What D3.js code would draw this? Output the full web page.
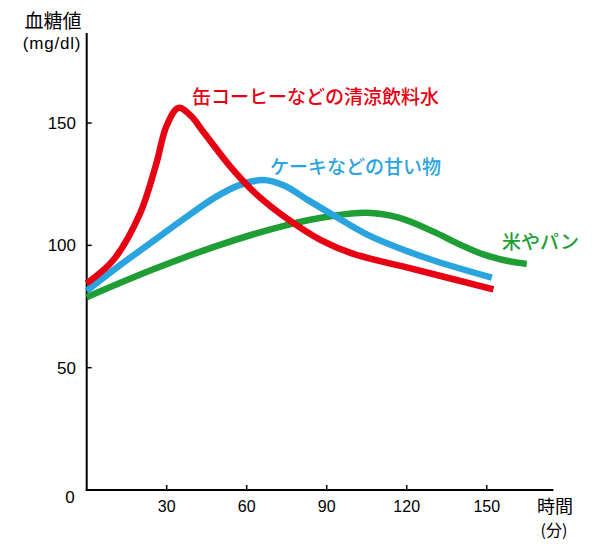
<!DOCTYPE html>
<html><head><meta charset="utf-8">
<script src="https://cdn.jsdelivr.net/npm/d3@7"></script>
<style>body{margin:0;background:#fff}svg{display:block}</style>
</head><body><div id="chart"></div>
<script>
const xTicks = [30, 60, 90, 120, 150];
const yTicks = [50, 100, 150];
const seriesNames = ["缶コーヒーなどの清涼飲料水", "ケーキなどの甘い物", "米やパン"];
const redT = [0, 10, 20, 26, 30, 34.4, 39, 44, 54, 64, 75, 88, 100, 120, 152.5];
const redV = [84.5, 94, 113, 133, 149, 156.2, 153, 146, 132, 120.5, 111, 102, 96.5, 91, 82];
const blueT = [0, 12, 24, 36, 48, 57, 66, 74, 83, 93, 105, 118, 131, 151.9];
const blueV = [81.4, 91.5, 101, 110.5, 119.5, 124.5, 126.7, 124.5, 118.5, 112, 104.5, 98.5, 93.5, 86.8];
const greenT = [0, 25, 50, 75, 92, 105, 117, 130, 140, 149, 158, 165];
const greenV = [78.8, 90.2, 100.2, 108.3, 112, 113.3, 111.3, 105.6, 100.3, 96.2, 93.6, 92.4];

const W = 600, H = 550;
const svg = d3.select("#chart").append("svg").attr("width", W).attr("height", H);
const x = d3.scaleLinear().domain([0, 175]).range([86.7, 553.4]);
const y = d3.scaleLinear().domain([0, 186.8]).range([490, 33]);
const jp = "'Noto Sans CJK JP', sans-serif";
const num = "'Liberation Sans', Arial, sans-serif";

// axes
svg.append("line").attr("x1", x(0)).attr("x2", x(0)).attr("y1", y(186.8)).attr("y2", y(0))
  .attr("stroke", "#000").attr("stroke-width", 2);
svg.append("line").attr("x1", x(0) - 1).attr("x2", x(175)).attr("y1", y(0)).attr("y2", y(0))
  .attr("stroke", "#000").attr("stroke-width", 2);
svg.selectAll(".yt").data(yTicks).enter().append("line")
  .attr("x1", x(0)).attr("x2", x(0) + 5).attr("y1", d => y(d)).attr("y2", d => y(d))
  .attr("stroke", "#000").attr("stroke-width", 1.5);
svg.selectAll(".xt").data(xTicks).enter().append("line")
  .attr("x1", d => x(d)).attr("x2", d => x(d)).attr("y1", y(0)).attr("y2", y(0) - 5)
  .attr("stroke", "#000").attr("stroke-width", 1.5);
svg.selectAll(".yl").data(yTicks).enter().append("text")
  .attr("x", 76).attr("y", d => y(d)).attr("dy", "0.36em").attr("text-anchor", "end")
  .attr("font-family", num).attr("font-size", 17).text(d => d);
svg.append("text").attr("x", 70).attr("y", 497).attr("dy", "0.36em").attr("text-anchor", "middle")
  .attr("font-family", num).attr("font-size", 17).text("0");
svg.selectAll(".xl").data(xTicks).enter().append("text")
  .attr("x", d => x(d)).attr("y", 506).attr("dy", "0.36em").attr("text-anchor", "middle")
  .attr("font-family", num).attr("font-size", 16).text(d => d);

svg.append("text").attr("x", 53).attr("y", 21).attr("dy", "0.36em").attr("text-anchor", "middle")
  .attr("font-family", jp).attr("font-size", 19).text("血糖値");
svg.append("text").attr("x", 52).attr("y", 43).attr("dy", "0.36em").attr("text-anchor", "middle")
  .attr("font-family", num).attr("font-size", 17).attr("letter-spacing", 0.8).text("(mg/dl)");
svg.append("text").attr("x", 555).attr("y", 507).attr("dy", "0.36em").attr("text-anchor", "middle")
  .attr("font-family", jp).attr("font-size", 18).text("時間");
svg.append("text").attr("x", 554).attr("y", 530).attr("dy", "0.36em").attr("text-anchor", "middle")
  .attr("font-family", jp).attr("font-size", 16).text("(分)");

const line = d3.line().x(d => x(d[0])).y(d => y(d[1])).curve(d3.curveCatmullRom.alpha(0.5));
const series = [
  {t: greenT, v: greenV, c: "#1e9e35"},
  {t: blueT, v: blueV, c: "#2aa4df"},
  {t: redT, v: redV, c: "#e60012"}
];
series.forEach(s => {
  svg.append("path").datum(s.t.map((t, i) => [t, s.v[i]]))
    .attr("d", line).attr("fill", "none").attr("stroke", s.c).attr("stroke-width", 6.5);
});

svg.append("text").attr("x", 192).attr("y", 97).attr("dy", "0.36em")
  .attr("font-family", jp).attr("font-size", 19).attr("font-weight", 500).attr("fill", "#e60012")
  .text(seriesNames[0]);
svg.append("text").attr("x", 270).attr("y", 167).attr("dy", "0.36em")
  .attr("font-family", jp).attr("font-size", 19).attr("font-weight", 500).attr("fill", "#2aa4df")
  .text(seriesNames[1]);
svg.append("text").attr("x", 502).attr("y", 242).attr("dy", "0.36em")
  .attr("font-family", jp).attr("font-size", 19).attr("font-weight", 500).attr("fill", "#1e9e35")
  .text(seriesNames[2]);
</script></body></html>
